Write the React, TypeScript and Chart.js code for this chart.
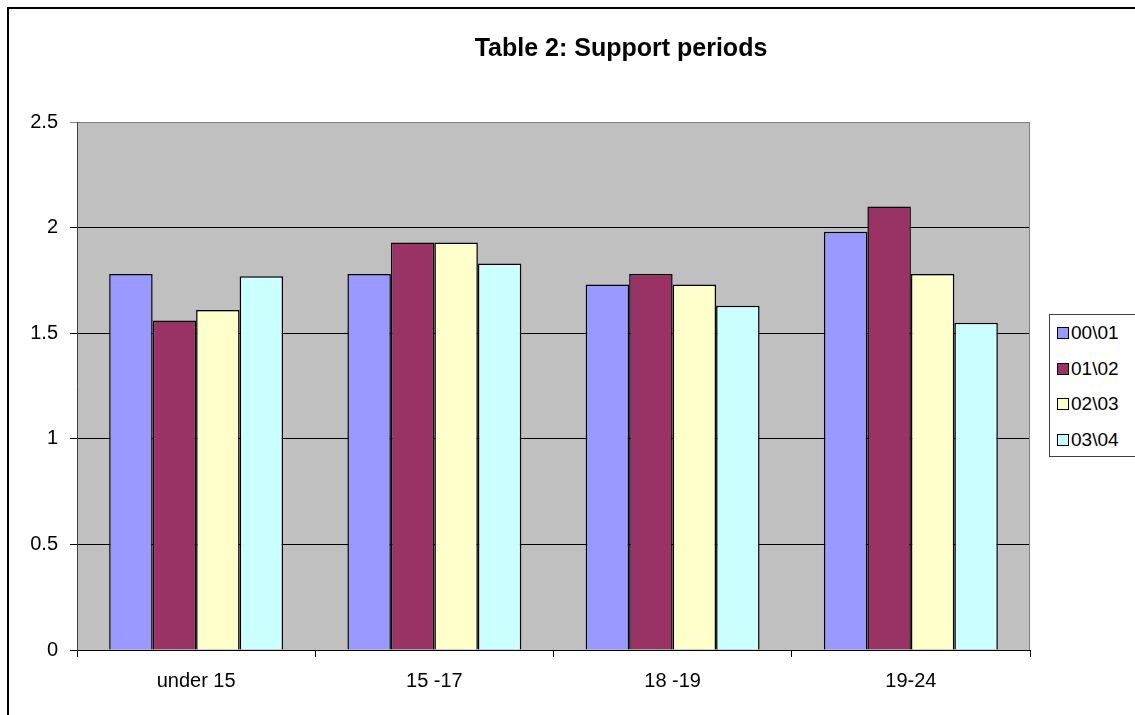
import React, { useEffect, useRef } from "react";
import { Chart, registerables } from "chart.js";

Chart.register(...registerables);

// Age groups along the category axis
const categories = ["under 15", "15 -17", "18 -19", "19-24"];

// Series names (financial years)
const seriesNames = ["00\\01", "01\\02", "02\\03", "03\\04"];

// Average number of support periods per client, by year
const values0001 = [1.78, 1.78, 1.73, 1.98];
const values0102 = [1.56, 1.93, 1.78, 2.1];
const values0203 = [1.61, 1.93, 1.73, 1.78];
const values0304 = [1.77, 1.83, 1.63, 1.55];

// Value-axis tick labels
const yTickLabels: Record<string, string> = {
  "0": "0",
  "0.5": "0.5",
  "1": "1",
  "1.5": "1.5",
  "2": "2",
  "2.5": "2.5",
};

const seriesValues = [values0001, values0102, values0203, values0304];
const seriesColors = ["#9999FF", "#993366", "#FFFFCC", "#CCFFFF"];

const titleText = "Table 2: Support periods";
const FONT = "'Liberation Sans', Arial, Helvetica, sans-serif";

// Grey plot-area fill plus its grey right-hand frame line
const plotAreaPlugin = {
  id: "plotArea",
  beforeDraw(chart: any) {
    const { ctx, chartArea } = chart;
    ctx.save();
    ctx.fillStyle = "#C0C0C0";
    ctx.fillRect(chartArea.left, chartArea.top, chartArea.right - chartArea.left, chartArea.bottom - chartArea.top);
    ctx.restore();
  },
  beforeDatasetsDraw(chart: any) {
    const { ctx, chartArea } = chart;
    ctx.save();
    ctx.strokeStyle = "#808080";
    ctx.lineWidth = 1;
    ctx.beginPath();
    ctx.moveTo(Math.round(chartArea.right) - 0.5, chartArea.top);
    ctx.lineTo(Math.round(chartArea.right) - 0.5, chartArea.bottom);
    ctx.stroke();
    ctx.restore();
  },
};

export default function App() {
  const canvasRef = useRef<HTMLCanvasElement | null>(null);

  useEffect(() => {
    if (!canvasRef.current) return;
    const chart = new Chart(canvasRef.current, {
      type: "bar",
      data: {
        labels: categories,
        datasets: seriesNames.map((name, i) => ({
          label: name,
          data: seriesValues[i],
          backgroundColor: seriesColors[i],
          borderColor: "#000000",
          borderWidth: 1.5,
          categoryPercentage: 0.73,
          barPercentage: 1.0,
        })),
      },
      options: {
        animation: false,
        responsive: true,
        maintainAspectRatio: false,
        layout: { padding: { top: 113, right: 110, bottom: 0, left: 0 } },
        plugins: {
          legend: { display: false },
          title: { display: false },
          tooltip: { enabled: false },
        },
        scales: {
          x: {
            afterFit(scale: any) {
              scale.height = 70;
            },
            grid: {
              drawOnChartArea: false,
              drawTicks: true,
              tickLength: 7,
              color: "#000000",
              offset: true,
            },
            border: { display: true, color: "#000000", width: 1 },
            ticks: {
              color: "#000000",
              padding: 12,
              font: { family: FONT, size: 20 },
            },
          },
          y: {
            min: 0,
            max: 2.5,
            afterFit(scale: any) {
              scale.width = 68;
            },
            grid: {
              color: (ctx: any) => (ctx.tick && ctx.tick.value === 2.5 ? "#808080" : "#000000"),
              tickLength: 7,
              drawTicks: true,
            },
            border: { display: true, color: "#404040", width: 1 },
            ticks: {
              stepSize: 0.5,
              color: "#000000",
              padding: 12,
              font: { family: FONT, size: 20 },
              callback: (value: any) => yTickLabels[String(Number(value))] ?? String(value),
            },
          },
        },
      },
      plugins: [plotAreaPlugin],
    });
    return () => chart.destroy();
  }, []);

  return (
    <div
      style={{
        position: "fixed",
        left: 7,
        top: 7,
        width: 1135,
        height: 715,
        border: "2px solid #000",
        boxSizing: "border-box",
        background: "#fff",
        fontFamily: FONT,
      }}
    >
      <canvas ref={canvasRef} />
      <div
        style={{
          position: "absolute",
          left: 0,
          top: 26,
          width: 1224,
          textAlign: "center",
          fontSize: 25,
          lineHeight: "25px",
          fontWeight: "bold",
          color: "#000",
          whiteSpace: "nowrap",
        }}
      >
        {titleText}
      </div>
      <div
        style={{
          position: "absolute",
          left: 1040,
          top: 305,
          width: 100,
          height: 143,
          border: "1px solid #404040",
          boxSizing: "border-box",
          background: "#fff",
        }}
      >
        {seriesNames.map((name, i) => (
          <div key={name} style={{ position: "relative", height: 35.5, lineHeight: "35.5px", fontSize: 19, color: "#000" }}>
            <span
              style={{
                position: "absolute",
                left: 7,
                top: 12,
                width: 12,
                height: 12,
                boxSizing: "border-box",
                border: "1px solid #000",
                background: seriesColors[i],
              }}
            />
            <span style={{ position: "absolute", left: 21, top: 0, whiteSpace: "nowrap" }}>{name}</span>
          </div>
        ))}
      </div>
    </div>
  );
}
